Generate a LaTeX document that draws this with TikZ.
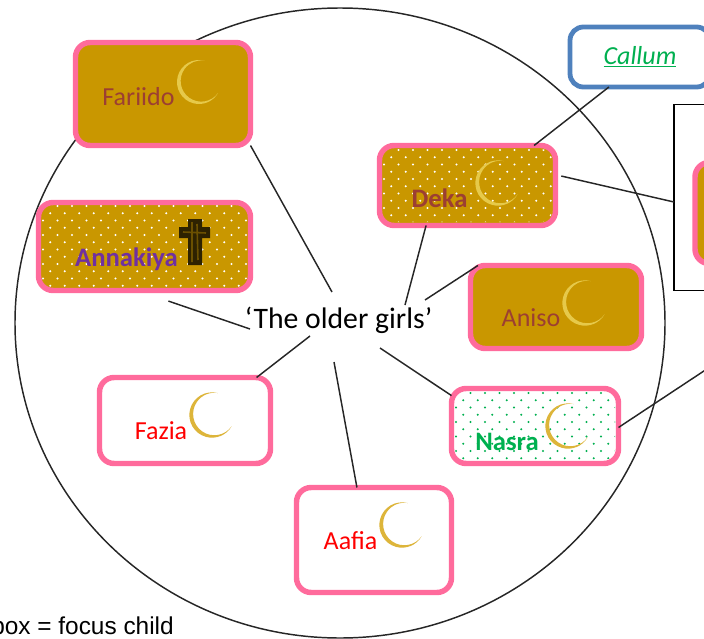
\documentclass[tikz,border=0pt]{standalone}
\usepackage{fontspec}
\setmainfont{Carlito}
\newfontfamily\arialfont{Liberation Sans}
\usetikzlibrary{shapes.geometric}
\definecolor{goldfill}{HTML}{C99700}
\definecolor{pinkedge}{HTML}{FF6B9C}
\definecolor{blueedge}{HTML}{4F81BD}
\definecolor{moonpale}{HTML}{E6C94A}
\definecolor{moonrich}{HTML}{DDB53A}
\definecolor{brownname}{HTML}{9C3F32}
\definecolor{purplename}{HTML}{7030A0}
\definecolor{greenname}{HTML}{00B050}
\definecolor{crossdark}{HTML}{2E2200}
\definecolor{crossmid}{HTML}{6B5000}
\tikzset{
  childbox/.style={draw=pinkedge,line width=4.1pt,rounded corners=11pt,inner sep=0pt,outer sep=0pt,fill=#1},
  childbox/.default=white,
  namelabel/.style={inner sep=0pt,font=\fontsize{19.5}{22}\selectfont,text=#1},
  boldlabel/.style={inner sep=0pt,font=\fontsize{20}{22}\selectfont\bfseries,text=#1},
  link/.style={draw=black!85,line width=1.1pt},
  pics/crescent/.style={code={
    \fill[#1,x=1pt,y=1pt] (75:1) arc[start angle=75,end angle=330,radius=1]
      arc[start angle=324.5,end angle=80.6,radius=.937] -- cycle;
  }},
}
\newcommand{\dotsin}[7]{%
  \begin{scope}
    \clip[rounded corners=8pt] (#1,#2) rectangle (#3,#4);
    \foreach \i in {0,...,#7}{\foreach \j in {0,...,16}{
      \fill[#6] ({#1+1+14.5*\i+7.25*mod(\j,2)},{#2+1+7.25*\j}) circle[radius=#5];
    }}
  \end{scope}}
\begin{document}
\begin{tikzpicture}[x=.75pt,y=-.75pt]
\useasboundingbox (0,0) rectangle (704,639);
\clip (0,0) rectangle (704,639);
% large ring
\node[ellipse,draw=black!85,line width=1.1pt,minimum width=487.5pt,minimum height=472.5pt,inner sep=0pt] (ring) at (340,323) {};
% side group
\node[draw=black,line width=.9pt,fill=white,outer sep=0pt,minimum width=64.5pt,minimum height=140pt,inner sep=0pt] (group) at (717,197.5) {};
\node[childbox=goldfill,minimum width=97.5pt,minimum height=76pt] (offchild) at (760,213) {};
% children
\node[draw=blueedge,line width=3.6pt,rounded corners=10pt,fill=white,outer sep=0pt,minimum width=105pt,minimum height=45pt,inner sep=0pt] (callum) at (640,57) {};
\node[childbox=goldfill,minimum width=131.25pt,minimum height=77.25pt] (fariido) at (163,94) {};
\node[childbox=goldfill,minimum width=159pt,minimum height=66pt] (annakiya) at (144.5,246.5) {};
\node[childbox=goldfill,minimum width=132pt,minimum height=60pt] (deka) at (467.5,185.5) {};
\node[childbox=goldfill,minimum width=128.25pt,minimum height=62.25pt] (aniso) at (556,307) {};
\node[childbox,minimum width=128.25pt,minimum height=64.5pt] (fazia) at (185,420.5) {};
\node[childbox,minimum width=116.25pt,minimum height=78.75pt] (aafia) at (374,540) {};
\node[childbox,minimum width=125.25pt,minimum height=56.25pt] (nasra) at (535,426) {};
% dot patterns
\dotsin{42}{205}{247}{288}{1.1}{white}{14}
\dotsin{383}{149}{552}{222}{1.1}{white}{12}
\dotsin{455}{392}{615}{460}{1.1}{greenname}{11}
% crescents
\pic[scale=16.5] at (199,82) {crescent=moonpale};
\pic[scale=17] at (498,183) {crescent=moonpale};
\pic[scale=17] at (585,303) {crescent=moonpale};
\pic[scale=17] at (212,415) {crescent=moonrich};
\pic[scale=17] at (402,525) {crescent=moonrich};
\pic[scale=17] at (568,426) {crescent=moonrich};
% cross
\fill[crossdark] (188,219) -- (202,219) -- (202,227) -- (210,227) -- (210,238) -- (202,238) -- (202,265) -- (188,265) -- (188,238) -- (179,238) -- (179,227) -- (188,227) -- cycle;
\draw[crossmid,line width=1.2pt] (192,222) -- (192,262) (197,224) -- (198,260) (183,232) -- (206,233);
% labels
\node[namelabel=brownname] (tfariido) at (138.5,97) {Fariido};
\node[boldlabel=purplename] (tannakiya) at (126.5,259) {Annakiya};
\node[boldlabel=brownname] (tdeka) at (439.5,198) {Deka};
\node[namelabel=brownname] (taniso) at (531,318) {Aniso};
\node[namelabel=red] (tfazia) at (161,431) {Fazia};
\node[namelabel=red] (taafia) at (350.5,541) {Aafia};
\node[boldlabel=greenname] (tnasra) at (507,442) {Nasra};
\node[namelabel=greenname,font=\fontsize{19.5}{22}\selectfont\itshape] (tcallum) at (640,57) {\underline{Callum}};
\node[inner sep=0pt,font=\fontsize{22.3}{25}\selectfont,text=black] (older) at (338.5,320) {‘The older girls’};
\node[anchor=base east,inner sep=0pt,font=\arialfont\fontsize{18.3}{20}\selectfont] (legend) at (174,634) {box = focus child};
% free ends near the central label
\coordinate (hubfariido) at (332,292);
\coordinate (hubannakiya) at (250,329);
\coordinate (hubdeka) at (405,305);
\coordinate (hubaniso) at (425,300);
\coordinate (hubnasra) at (380,348);
\coordinate (hubfazia) at (310,336);
\coordinate (hubaafia) at (334,362);
\coordinate (offright) at (716,363);
% connectors
\draw[link] (fariido.south east) -- (hubfariido);
\draw[link,shorten <=24.5pt] (annakiya.-99.7) -- (hubannakiya);
\draw[link] (deka.-136.4) -- (hubdeka);
\draw[link] (aniso.152.9) -- (hubaniso);
\draw[link] (nasra.160) -- (hubnasra);
\draw[link] (fazia.31.9) -- (hubfazia);
\draw[link] (aafia.108.9) -- (hubaafia);
\draw[link] (callum.-136.4) -- (deka.31.4);
\draw[link,shorten <=4.5pt] (deka.7.8) -- (group.-174);
\draw[link] (nasra.-1.4) -- (offright);
\end{tikzpicture}
\end{document}
